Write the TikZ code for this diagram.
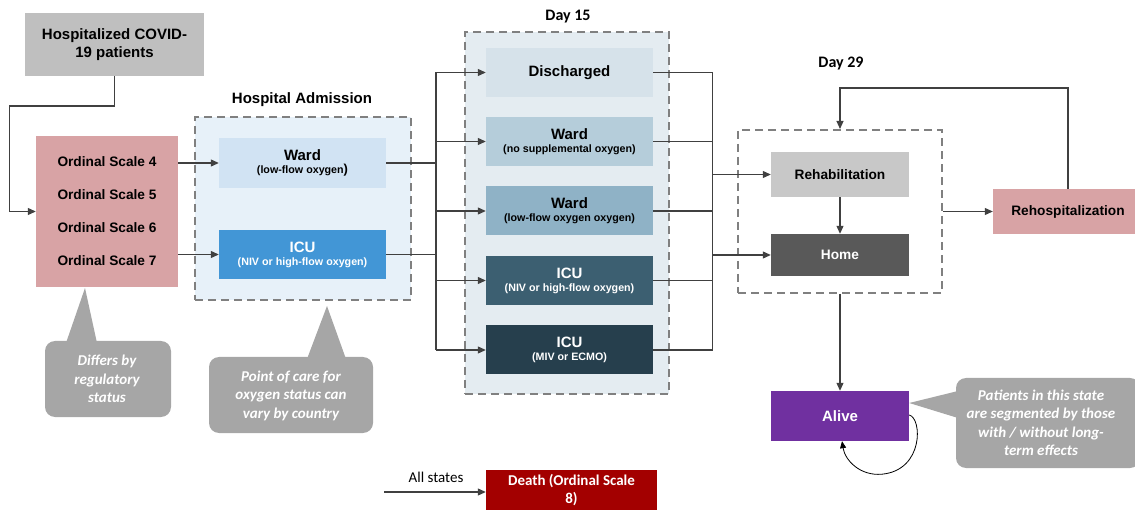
\documentclass[tikz,border=0pt]{standalone}
\usepackage{fontspec}
\setmainfont{Liberation Sans}
\newfontfamily\calfont{Carlito}
\usetikzlibrary{arrows.meta, calc}
\definecolor{hospG}{RGB}{191,191,191}
\definecolor{ordR}{RGB}{216,163,165}
\definecolor{admBg}{RGB}{231,241,249}
\definecolor{wardL}{RGB}{209,227,243}
\definecolor{icuL}{RGB}{66,150,214}
\definecolor{dayBg}{RGB}{228,236,241}
\definecolor{disC}{RGB}{214,226,234}
\definecolor{wardNo}{RGB}{181,205,218}
\definecolor{wardLo}{RGB}{143,178,198}
\definecolor{icuNiv}{RGB}{60,95,113}
\definecolor{icuMiv}{RGB}{38,63,77}
\definecolor{rehabG}{RGB}{200,200,200}
\definecolor{homeG}{RGB}{89,89,89}
\definecolor{aliveP}{RGB}{112,48,160}
\definecolor{deathR}{RGB}{163,0,0}
\definecolor{noteG}{RGB}{166,166,166}
\definecolor{lineG}{RGB}{64,64,64}
\definecolor{dashG}{RGB}{128,128,128}
\newcommand{\boxtwo}[2]{{\fontsize{15}{17}\selectfont #1}\\[1pt]{\fontsize{10.7}{12}\selectfont #2}}

\begin{document}
\begin{tikzpicture}[x=1pt, y=-1pt,
  state/.style={inner sep=0pt, align=center, font=\bfseries},
  grp/.style={draw=dashG, line width=2pt, dash pattern=on 8pt off 5pt, inner sep=0pt},
  flow/.style={draw=lineG, line width=1.1pt, -{Triangle[length=8pt, width=7pt]}},
  wire/.style={draw=lineG, line width=1.1pt},
  head/.style={font=\fontsize{15}{17}\selectfont\bfseries},
  notetxt/.style={text=white, align=center, font=\calfont\fontsize{15}{18.5}\selectfont\bfseries\itshape}]
\useasboundingbox (0,0) rectangle (1135,510);
% dashed groups
\node[grp, fill=admBg, minimum width=216pt, minimum height=183pt] (adm) at (303,208.5) {};
\node[grp, fill=dayBg, minimum width=204pt, minimum height=362pt] (d15) at (567,213) {};
\node[grp, minimum width=204pt, minimum height=163pt] (d29) at (840,211.5) {};
\node[head] (admlab) at (302,100) {Hospital Admission};
\node[head, font=\calfont\fontsize{16}{17}\selectfont\bfseries] (d15lab) at (568,17) {Day 15};
\node[head, font=\calfont\fontsize{16}{17}\selectfont\bfseries] (d29lab) at (841,64) {Day 29};
% states
\node[state, fill=hospG, minimum width=179pt, minimum height=63pt, font=\fontsize{15}{18}\selectfont\bfseries] (hosp) at (114.5,44.5) {Hospitalized COVID-\\19 patients};
\node[state, fill=ordR, minimum width=142pt, minimum height=151pt, font=\fontsize{13.7}{33}\selectfont\bfseries] (ord) at (107,211.5)
  {Ordinal Scale 4\\Ordinal Scale 5\\Ordinal Scale 6\\Ordinal Scale 7};
\node[state, fill=wardL, minimum width=167pt, minimum height=50pt] (ward) at (302.5,163) {\boxtwo{Ward}{(low-flow oxygen{\fontsize{13}{12}\selectfont)}}};
\node[state, fill=icuL, text=white, minimum width=167pt, minimum height=49pt] (icu) at (302.5,254.5) {\boxtwo{ICU}{(NIV or high-flow oxygen)}};
\node[state, fill=disC, minimum width=167pt, minimum height=49pt, font=\fontsize{15}{17}\selectfont\bfseries] (dis) at (569.5,72.5) {Discharged};
\node[state, fill=wardNo, minimum width=167pt, minimum height=49pt] (wardA) at (569.5,141.5) {\boxtwo{Ward}{(no supplemental oxygen)}};
\node[state, fill=wardLo, minimum width=167pt, minimum height=49pt] (wardB) at (569.5,211) {\boxtwo{Ward}{(low-flow oxygen oxygen)}};
\node[state, fill=icuNiv, text=white, minimum width=167pt, minimum height=49pt] (icuA) at (569.5,280.5) {\boxtwo{ICU}{(NIV or high-flow oxygen)}};
\node[state, fill=icuMiv, text=white, minimum width=167pt, minimum height=49pt] (icuB) at (569.5,350) {\boxtwo{ICU}{(MIV or ECMO)}};
\node[state, fill=rehabG, minimum width=138pt, minimum height=45pt, font=\fontsize{13.7}{16}\selectfont\bfseries] (rehab) at (840,174.5) {Rehabilitation};
\node[state, fill=homeG, text=white, minimum width=138pt, minimum height=42pt, font=\fontsize{13.7}{16}\selectfont\bfseries] (home) at (840,255) {Home};
\node[state, fill=ordR, minimum width=150pt, minimum height=45pt, font=\fontsize{13.7}{16}\selectfont\bfseries] (rehosp) at (1068,211.5) {Rehospitalization};
\node[state, fill=aliveP, text=white, minimum width=138pt, minimum height=50pt, font=\fontsize{15}{17}\selectfont\bfseries] (alive) at (840,416) {Alive};
\node[state, fill=deathR, text=white, minimum width=171pt, minimum height=40pt, font=\calfont\fontsize{15}{18.5}\selectfont\bfseries] (death) at (571.5,490) {Death (Ordinal Scale\\8)};
% connectors
\coordinate (turnL) at (9.5,106);
\draw[flow] (hosp.south) |- (turnL) |- (ord.west);
\draw[flow] (ord.east |- ward.west) -- (ward.west);
\draw[flow] (ord.east |- icu.west) -- (icu.west);
\coordinate (bus1) at (436,0);
\coordinate (bus2) at (712.5,0);
\draw[wire] (ward.east) -- (ward.east -| bus1);
\draw[wire] (icu.east) -- (icu.east -| bus1);
\draw[wire] (dis.west -| bus1) -- (icuB.west -| bus1);
\draw[wire] (dis.east -| bus2) -- (icuB.east -| bus2);
\foreach \n in {dis, wardA, wardB, icuA, icuB} {
  \draw[flow] (\n.west -| bus1) -- (\n.west);
  \draw[wire] (\n.east) -- (\n.east -| bus2);
}
\draw[flow] (rehab.west -| bus2) -- (rehab.west);
\draw[flow] (home.west -| bus2) -- (home.west);
\draw[flow] (rehab) -- (home);
\draw[flow] (d29.east) -- (rehosp.west);
\draw[flow] (rehosp.north) |- ($(d29.north)+(0,-41)$) -- (d29.north);
\draw[flow] (d29.south) -- (alive.north);
% self loop on Alive
\draw[black, line width=0.8pt, -{Triangle[length=7pt, width=6pt]}] ([yshift=1pt]alive.east)
  .. controls +(13,3) and +(42,-4) .. ($(alive.south)+(42,33)$)
  .. controls +(-22,2) and +(3,19) .. ([xshift=2pt]alive.south);
% call-outs
\fill[noteG, rounded corners=10pt] (45,341) rectangle (171,417);
\fill[noteG] (66,343) -- (85,288) -- (97,343) -- cycle;
\node[notetxt] (note1) at (107,379) {Differs by\\regulatory\\status};
\fill[noteG, rounded corners=10pt] (209,357) rectangle (373,433);
\fill[noteG] (307,359) -- (327,306) -- (346,359) -- cycle;
\node[notetxt] (note2) at (291,395.5) {Point of care for\\oxygen status can\\vary by country};
\fill[noteG, rounded corners=10pt] (956,378) rectangle (1140,468);
\fill[noteG] (958,391) -- ([yshift=13pt]alive.east) -- (958,418) -- cycle;
\node[notetxt] (note3) at (1041,423) {Patients in this state\\are segmented by those\\with / without long-\\term effects};
% all states
\coordinate (allin) at (384,492);
\draw[flow] (allin) -- (allin -| death.west);
\node[font=\calfont\fontsize{15}{17}\selectfont] (alllab) at (436,477) {All states};
\end{tikzpicture}
\end{document}
